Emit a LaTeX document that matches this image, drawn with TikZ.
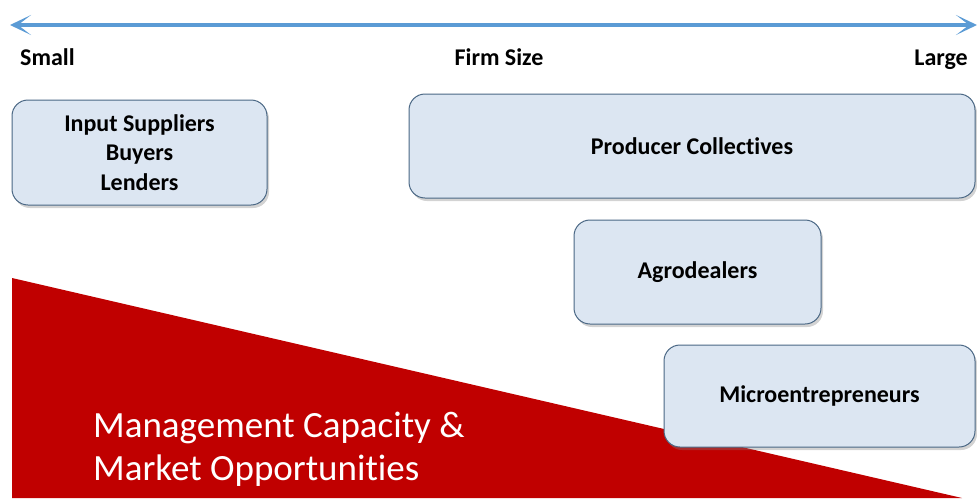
\documentclass[tikz,border=0pt]{standalone}
\usepackage{fontspec}
\setmainfont[Ligatures=NoCommon]{Carlito}
\usepackage{xcolor}
\usepackage{tikz}
\usetikzlibrary{arrows.meta,shadows,positioning}
\definecolor{axisblue}{HTML}{5B9BD5}
\definecolor{boxfill}{HTML}{DCE6F2}
\definecolor{boxline}{HTML}{4A6784}
\definecolor{capred}{HTML}{C00000}
\tikzset{>={Stealth[length=21pt,width=20pt,inset=13pt]}}

\begin{document}
\begin{tikzpicture}[x=1pt,y=-1pt,
                          axis/.style={line width=3.8pt, axisblue,<->},
                          sizelabel/.style={font=\fontsize{24}{28}\selectfont\bfseries, inner sep=0pt},
                          actor/.style={draw=boxline, line width=1pt, fill=boxfill, rounded corners=16pt,
                                        font=\fontsize{24}{29.5}\selectfont\bfseries, align=center,
                                        drop shadow={shadow xshift=2pt, shadow yshift=-3pt, opacity=.35}},
                          wedge/.style={fill=capred},
                         ]

\useasboundingbox (0,0) rectangle (977,498);

% size axis
\coordinate (smallend) at (10,25);
\coordinate (largeend) at (977,25);
\draw[axis] (smallend) -- (largeend);

\node[sizelabel, anchor=base west] (small) at (20,65) {Small};
\node[sizelabel, anchor=base] (firmsize) at (499,65) {Firm Size};
\node[sizelabel, anchor=base east] (large) at (968,65) {Large};

% red wedge
\fill[wedge] (12,278) -- (962,498) -- (12,498) -- cycle;
\node[anchor=base west, text=white, inner sep=0pt,
      font=\fontsize{37}{43}\selectfont] (capacity) at (93,437)
      {Management Capacity \&};
\node[anchor=base west, text=white, inner sep=0pt,
      font=\fontsize{37}{43}\selectfont] (markets) at (93,480)
      {Market Opportunities};

% actors
\node[actor, minimum width=255pt, minimum height=105pt] (inputs) at (139.5,152.5)
      {Input Suppliers\\Buyers\\Lenders};
\node[actor, minimum width=566pt, minimum height=104pt] (collectives) at (692,146)
      {Producer Collectives};
\node[actor, minimum width=247pt, minimum height=104pt] (agro) at (697.5,272)
      {Agrodealers};
\node[actor, minimum width=311pt, minimum height=102pt] (micro) at (819.5,396)
      {Microentrepreneurs};

\end{tikzpicture}
\end{document}
